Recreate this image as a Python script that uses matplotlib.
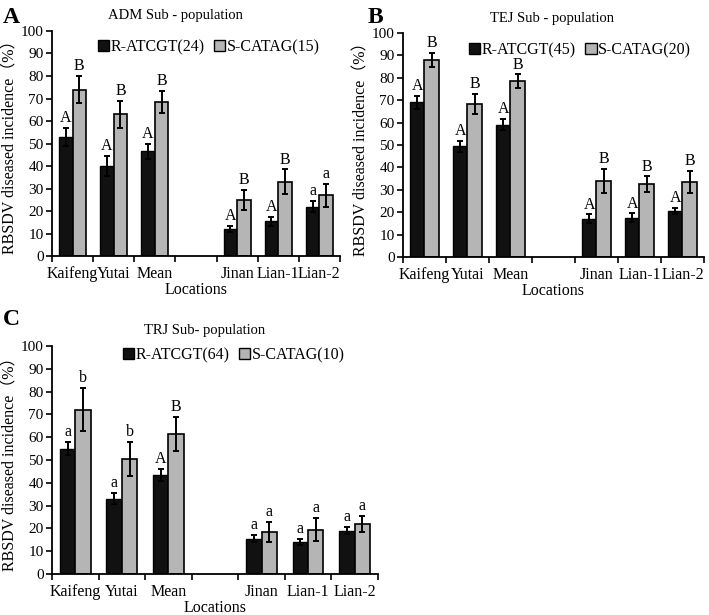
import numpy as np
import matplotlib
matplotlib.use('Agg')
import matplotlib.pyplot as plt
from matplotlib.patches import Patch

plt.rcParams['font.family'] = ['Liberation Serif', 'Noto Sans CJK SC']

locations = ['Kaifeng', 'Yutai', 'Mean', '', 'Jinan', 'Lian-1', 'Lian-2']
nan = np.nan

# panel A - ADM
adm_r = [53, 40, 46.5, nan, 12, 15.5, 22]
adm_r_err = [4, 4.5, 3.5, nan, 1.5, 2, 2.5]
adm_s = [74, 63, 68.5, nan, 25, 33, 27]
adm_s_err = [6, 6, 5, nan, 4.5, 5.5, 5]
adm_r_lab = ['A', 'A', 'A', '', 'A', 'A', 'a']
adm_s_lab = ['B', 'B', 'B', '', 'B', 'B', 'a']

# panel B - TEJ
tej_r = [69, 49.5, 59, nan, 17, 17.5, 20.5]
tej_r_err = [3, 2.5, 2.5, nan, 2, 2, 1.5]
tej_s = [88, 68.5, 78.5, nan, 34, 32.5, 33.5]
tej_s_err = [3, 4.5, 3, nan, 5.5, 3.5, 5]
tej_r_lab = ['A', 'A', 'A', '', 'A', 'A', 'A']
tej_s_lab = ['B', 'B', 'B', '', 'B', 'B', 'B']

# panel C - TRJ
trj_r = [55, 33, 43.5, nan, 15.5, 14, 19]
trj_r_err = [3, 2.5, 2.5, nan, 1.5, 1.5, 1.5]
trj_s = [72, 50.5, 61.5, nan, 18.5, 19.5, 22]
trj_s_err = [9.5, 7.5, 7.5, nan, 4.5, 5, 3.5]
trj_r_lab = ['a', 'a', 'A', '', 'a', 'a', 'a']
trj_s_lab = ['b', 'b', 'B', '', 'a', 'a', 'a']

fig = plt.figure(figsize=(7.09, 6.15), dpi=100)


def panel(rect, r, r_err, s, s_err, r_lab, s_lab, title, leg, title_xy, leg_xy):
    ax = fig.add_axes(rect)
    x = np.arange(len(locations)) + 0.5
    w = 0.33
    ax.bar(x - w / 2, r, w, color='#111111', edgecolor='black', linewidth=1)
    ax.bar(x + w / 2, s, w, color='#b5b5b5', edgecolor='black', linewidth=1.2)
    ax.errorbar(x - w / 2, r, yerr=r_err, fmt='none', ecolor='black', elinewidth=1.4, capsize=2.3, capthick=1.4)
    ax.errorbar(x + w / 2, s, yerr=s_err, fmt='none', ecolor='black', elinewidth=1.4, capsize=2.3, capthick=1.4)
    for i in range(len(locations)):
        if r_lab[i]:
            ax.text(x[i] - w / 2, r[i] + r_err[i] + 0.8, r_lab[i], ha='center', va='bottom', fontsize=11.5)
        if s_lab[i]:
            ax.text(x[i] + w / 2, s[i] + s_err[i] + 0.8, s_lab[i], ha='center', va='bottom', fontsize=11.5)
    ax.set_xlim(0, len(locations))
    ax.set_ylim(0, 100)
    ax.set_yticks(range(0, 101, 10))
    ax.set_xticks(range(len(locations) + 1))
    ax.set_xticklabels([])
    ax.set_xticks(x, minor=True)
    ax.set_xticklabels(locations, minor=True)
    ax.tick_params(axis='x', which='minor', length=0, labelsize=11.5, pad=7.5)
    ax.tick_params(axis='x', which='major', length=4, width=1.2)
    ax.tick_params(axis='y', length=4, width=1.2, labelsize=11, pad=2)
    for sp in ['top', 'right']:
        ax.spines[sp].set_visible(False)
    for sp in ['left', 'bottom']:
        ax.spines[sp].set_linewidth(1.3)
    ax.set_ylabel('RBSDV diseased incidence（%）', fontsize=11.5, labelpad=2)
    ax.set_xlabel('Locations', fontsize=11.5, labelpad=0)
    ax.text(title_xy[0], title_xy[1], title, transform=ax.transAxes, ha='center', va='center', fontsize=10.5)
    handles = [Patch(facecolor='#111111', edgecolor='black'),
               Patch(facecolor='#b5b5b5', edgecolor='black')]
    ax.legend(handles, leg, loc='center', bbox_to_anchor=leg_xy, ncol=2, frameon=False,
              fontsize=11.5, handlelength=0.7, handleheight=0.7, handletextpad=0.1,
              columnspacing=0.6, borderpad=0, borderaxespad=0)
    return ax


panel([0.0733, 0.5837, 0.4062, 0.3659], adm_r, adm_r_err, adm_s, adm_s_err, adm_r_lab, adm_s_lab,
      'ADM Sub - population', ['R-ATCGT(24)', 'S-CATAG(15)'], (0.43, 1.067), (0.545, 0.929))
panel([0.5684, 0.5821, 0.4245, 0.3642], tej_r, tej_r_err, tej_s, tej_s_err, tej_r_lab, tej_s_lab,
      'TEJ Sub - population', ['R-ATCGT(45)', 'S-CATAG(20)'], (0.495, 1.067), (0.588, 0.924))
panel([0.0733, 0.0667, 0.4598, 0.3707], trj_r, trj_r_err, trj_s, trj_s_err, trj_r_lab, trj_s_lab,
      'TRJ Sub- population', ['R-ATCGT(64)', 'S-CATAG(10)'], (0.469, 1.07), (0.558, 0.96))

fig.text(0.004, 0.988, 'A', fontsize=17, fontweight='bold', va='top')
fig.text(0.518, 0.988, 'B', fontsize=17, fontweight='bold', va='top')
fig.text(0.004, 0.497, 'C', fontsize=17, fontweight='bold', va='top')

fig.savefig('out.png', dpi=100)
